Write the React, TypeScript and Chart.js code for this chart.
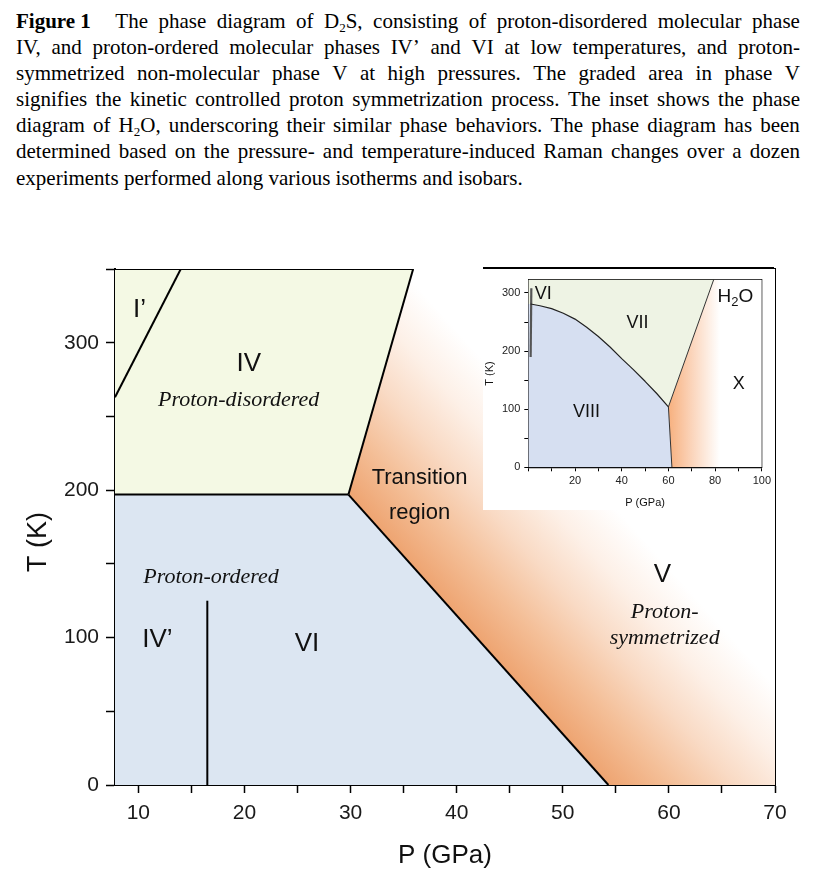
import React, { useEffect, useRef } from "react";
import { Chart, registerables } from "chart.js";

Chart.register(...registerables);

// ---------------- Caption ----------------
const captionLabel = "Figure 1";
const captionLines = [
  "The phase diagram of D₂S, consisting of proton-disordered molecular phase",
  "IV, and proton-ordered molecular phases IV’ and VI at low temperatures, and proton-",
  "symmetrized non-molecular phase V at high pressures. The graded area in phase V",
  "signifies the kinetic controlled proton symmetrization process. The inset shows the phase",
  "diagram of H₂O, underscoring their similar phase behaviors. The phase diagram has been",
  "determined based on the pressure- and temperature-induced Raman changes over a dozen",
  "experiments performed along various isotherms and isobars.",
];

// ---------------- Main D2S diagram (P in GPa, T in K) ----------------
const pRange = [7.8, 70];
const tRange = [0, 350];
const xTickLabels = [10, 20, 30, 40, 50, 60, 70];
const yTickLabels = [0, 100, 200, 300];

const boundaryIprimeIV_P = [7.8, 14.0];
const boundaryIprimeIV_T = [263, 350];
const boundaryIV_VI_P = [7.8, 29.8];
const boundaryIV_VI_T = [197, 197];
const boundaryIV_V_P = [29.8, 35.9];
const boundaryIV_V_T = [197, 350];
const boundaryVI_V_P = [29.8, 54.3];
const boundaryVI_V_T = [197, 0];
const boundaryIVp_VI_P = [16.5, 16.5];
const boundaryIVp_VI_T = [0, 125];

const mainLabelText = ["I’", "IV", "Proton-disordered", "Transition", "region", "Proton-ordered", "IV’", "VI", "V", "Proton-", "symmetrized"];
const mainLabelP = [10.1, 20.4, 19.45, 36.5, 36.5, 16.85, 11.8, 25.9, 59.4, 59.6, 59.6];
const mainLabelT = [322, 285.4, 261, 208, 184.4, 141.2, 98.3, 96, 142.4, 117.5, 99.5];
const mainLabelKind = ["roman", "roman", "italic", "sans", "sans", "italic", "roman", "roman", "roman", "italic", "italic"];

// ---------------- Inset H2O diagram ----------------
const insetPRange = [0, 100];
const insetTRange = [0, 323];
const insetXTickLabels = [20, 40, 60, 80, 100];
const insetYTickLabels = [0, 100, 200, 300];

const insetVIII_VII_P = [1, 5, 10, 15, 20, 25, 30, 35, 40, 45, 50, 55, 60];
const insetVIII_VII_T = [281, 278, 273, 265, 255, 241, 225, 207, 187, 168, 148, 127, 104];
const insetVII_X_P = [60, 79.4];
const insetVII_X_T = [104, 323];
const insetVIII_X_P = [60, 61.5];
const insetVIII_X_T = [104, 0];
const insetVI_P = [1.0, 1.3];
const insetVI_T = [190, 308];

const insetLabelText = ["VI", "VII", "VIII", "X"];
const insetLabelP = [6.4, 46.8, 24.9, 90.1];
const insetLabelT = [298.8, 247.7, 94.6, 143];
const insetFormulaP = 88.7;
const insetFormulaT = 293.2;

// ---------------- helpers ----------------
const SANS = '"Liberation Sans", Arial, sans-serif';
const SERIF = '"Liberation Serif", "Times New Roman", serif';

type Pt = { x: number; y: number };
const zip = (P: number[], T: number[]): Pt[] => P.map((p, i) => ({ x: p, y: T[i] }));

function fillDs(data: Pt[], color: any, order = 10) {
  return {
    data,
    backgroundColor: color,
    borderColor: "rgba(0,0,0,0)",
    borderWidth: 0,
    pointRadius: 0,
    fill: "shape",
    tension: 0,
    order,
  };
}
function lineDs(data: Pt[], color = "#000", width = 2, order = 0) {
  return {
    data,
    borderColor: color,
    backgroundColor: color,
    borderWidth: width,
    pointRadius: 0,
    fill: false,
    tension: 0,
    order,
    borderCapStyle: "butt",
    borderJoinStyle: "round",
  };
}

function mainGradient(context: any) {
  const chart = context.chart;
  const area = chart.chartArea;
  if (!area || !chart.scales.x || !chart.scales.y) return "rgba(240,170,120,0.6)";
  const xs = chart.scales.x;
  const ys = chart.scales.y;
  const ax = xs.getPixelForValue(boundaryVI_V_P[0]);
  const ay = ys.getPixelForValue(boundaryVI_V_T[0]);
  const bx = xs.getPixelForValue(boundaryVI_V_P[1]);
  const by = ys.getPixelForValue(boundaryVI_V_T[1]);
  const dx = bx - ax, dy = by - ay;
  const len = Math.hypot(dx, dy) || 1;
  const nx = dy / len, ny = -dx / len;
  const D = 190;
  const g = chart.ctx.createLinearGradient(ax, ay, ax + nx * D, ay + ny * D);
  g.addColorStop(0, "rgb(238,164,113)");
  g.addColorStop(0.25, "rgb(244,191,152)");
  g.addColorStop(0.5, "rgb(249,218,196)");
  g.addColorStop(0.75, "rgb(253,240,231)");
  g.addColorStop(1, "rgb(255,255,255)");
  return g;
}

function insetGradient(context: any) {
  const chart = context.chart;
  if (!chart.chartArea || !chart.scales.x) return "rgba(247,180,130,0.6)";
  const xs = chart.scales.x;
  const x0 = xs.getPixelForValue(insetVIII_X_P[0]);
  const x1 = xs.getPixelForValue(82);
  const g = chart.ctx.createLinearGradient(x0, 0, x1, 0);
  g.addColorStop(0, "rgb(247,176,126)");
  g.addColorStop(0.45, "rgb(251,212,186)");
  g.addColorStop(1, "rgb(255,255,255)");
  return g;
}

const mainLabelsPlugin = {
  id: "mainLabels",
  afterDatasetsDraw(chart: any) {
    const { ctx, scales } = chart;
    ctx.save();
    ctx.textAlign = "center";
    ctx.textBaseline = "middle";
    ctx.fillStyle = "#111";
    mainLabelText.forEach((t, i) => {
      const k = mainLabelKind[i];
      ctx.font = k === "roman" ? `26px ${SANS}` : k === "italic" ? `italic 22px ${SERIF}` : `22px ${SANS}`;
      ctx.fillText(t, scales.x.getPixelForValue(mainLabelP[i]), scales.y.getPixelForValue(mainLabelT[i]));
    });
    ctx.restore();
  },
};

const insetLabelsPlugin = {
  id: "insetLabels",
  afterDatasetsDraw(chart: any) {
    const { ctx, scales } = chart;
    ctx.save();
    ctx.textAlign = "center";
    ctx.textBaseline = "middle";
    ctx.fillStyle = "#111";
    ctx.font = `18px ${SANS}`;
    insetLabelText.forEach((t, i) => {
      ctx.fillText(t, scales.x.getPixelForValue(insetLabelP[i]), scales.y.getPixelForValue(insetLabelT[i]));
    });
    // H2O with subscript
    const cx = scales.x.getPixelForValue(insetFormulaP);
    const cy = scales.y.getPixelForValue(insetFormulaT);
    const big = `19px ${SANS}`;
    const small = `13px ${SANS}`;
    ctx.font = big;
    const wH = ctx.measureText("H").width;
    const wO = ctx.measureText("O").width;
    ctx.font = small;
    const w2 = ctx.measureText("2").width;
    const total = wH + w2 + wO;
    let x = cx - total / 2;
    ctx.textAlign = "left";
    ctx.font = big;
    ctx.fillText("H", x, cy);
    x += wH;
    ctx.font = small;
    ctx.fillText("2", x, cy + 6);
    x += w2;
    ctx.font = big;
    ctx.fillText("O", x, cy);
    ctx.restore();
  },
};

function buildMainConfig(): any {
  const pMin = pRange[0], pMax = pRange[1], tMax = tRange[1];
  const regionIV = [
    ...zip(boundaryIV_VI_P, boundaryIV_VI_T),
    ...zip(boundaryIV_V_P, boundaryIV_V_T).slice(1),
    { x: pMin, y: tMax },
  ];
  const regionVI = [
    { x: pMin, y: tRange[0] },
    ...zip(boundaryVI_V_P, boundaryVI_V_T).reverse(),
    { x: pMin, y: boundaryIV_VI_T[0] },
  ];
  const vEnd = zip(boundaryVI_V_P, boundaryVI_V_T)[1];
  const regionV = [
    vEnd,
    { x: pMax, y: tRange[0] },
    { x: pMax, y: tMax },
    ...zip(boundaryIV_V_P, boundaryIV_V_T).reverse(),
  ];
  const topEdge = zip([pMin, boundaryIV_V_P[1]], [tMax, tMax]);

  return {
    type: "line",
    data: {
      datasets: [
        fillDs(regionIV, "rgb(244,249,228)"),
        fillDs(regionVI, "rgb(220,230,242)"),
        fillDs(regionV, mainGradient),
        lineDs(zip(boundaryIprimeIV_P, boundaryIprimeIV_T)),
        lineDs(zip(boundaryIV_VI_P, boundaryIV_VI_T)),
        lineDs(zip(boundaryIV_V_P, boundaryIV_V_T)),
        lineDs(zip(boundaryVI_V_P, boundaryVI_V_T)),
        lineDs(zip(boundaryIVp_VI_P, boundaryIVp_VI_T)),
        lineDs(topEdge),
      ],
    },
    options: {
      animation: false,
      responsive: false,
      events: [],
      layout: { padding: { top: 31, right: 33, left: 0, bottom: 0 } },
      plugins: { legend: { display: false }, tooltip: { enabled: false } },
      scales: {
        x: {
          type: "linear",
          position: "bottom",
          min: pRange[0],
          max: pRange[1],
          ticks: {
            stepSize: 5,
            includeBounds: false,
            autoSkip: false,
            maxRotation: 0,
            padding: 8,
            color: "#1a1a1a",
            font: { family: SANS, size: 21 },
            callback: (v: number) => (xTickLabels.includes(Math.round(v)) ? String(Math.round(v)) : ""),
          },
          grid: { display: true, drawOnChartArea: false, drawTicks: true, tickLength: 8, tickWidth: 1.5, tickColor: "#000" },
          border: { display: true, color: "#000", width: 2 },
          title: { display: true, text: "P (GPa)", color: "#111", font: { family: SANS, size: 26 }, padding: { top: 0, bottom: 7 } },
          afterFit: (s: any) => { s.height = 93; },
        },
        y: {
          type: "linear",
          position: "left",
          min: tRange[0],
          max: tRange[1],
          ticks: {
            stepSize: 50,
            includeBounds: false,
            autoSkip: false,
            padding: 7,
            color: "#1a1a1a",
            font: { family: SANS, size: 21 },
            callback: (v: number) => (yTickLabels.includes(Math.round(v)) ? String(Math.round(v)) : ""),
          },
          grid: { display: true, drawOnChartArea: false, drawTicks: true, tickLength: 9, tickWidth: 1.5, tickColor: "#000" },
          border: { display: true, color: "#000", width: 2 },
          title: { display: true, text: "T (K)\u00a0\u00a0\u00a0\u00a0", color: "#111", font: { family: SANS, size: 27 }, padding: { top: 14, bottom: 0 } },
          afterFit: (s: any) => { s.width = 107; },
        },
        yRight: {
          type: "linear",
          position: "right",
          display: true,
          min: tRange[0],
          max: tRange[1],
          ticks: { display: false },
          grid: { display: false, drawTicks: false },
          border: { display: true, color: "#000", width: 2 },
          afterFit: (s: any) => { s.width = 0; },
        },
      },
    },
    plugins: [mainLabelsPlugin],
  };
}

function buildInsetConfig(): any {
  const pMax = insetPRange[1], tMax = insetTRange[1];
  const curve = zip(insetVIII_VII_P, insetVIII_VII_T);
  const regionVIII = [
    { x: 0, y: 0 },
    ...zip(insetVIII_X_P, insetVIII_X_T).reverse(),
    ...curve.slice().reverse().slice(1),
    { x: 0, y: insetVIII_VII_T[0] },
  ];
  const regionVII = [
    { x: 0, y: insetVIII_VII_T[0] },
    ...curve,
    ...zip(insetVII_X_P, insetVII_X_T).slice(1),
    { x: 0, y: tMax },
  ];
  const regionX = [
    zip(insetVIII_X_P, insetVIII_X_T)[1],
    { x: pMax, y: 0 },
    { x: pMax, y: tMax },
    ...zip(insetVII_X_P, insetVII_X_T).reverse(),
  ];
  const tickFont = { family: SANS, size: 11 };
  return {
    type: "line",
    data: {
      datasets: [
        fillDs(regionVIII, "rgb(214,223,241)"),
        fillDs(regionVII, "rgb(238,243,228)"),
        fillDs(regionX, insetGradient),
        lineDs(curve, "#222", 1.2),
        lineDs(zip(insetVII_X_P, insetVII_X_T), "#333", 1),
        lineDs(zip(insetVIII_X_P, insetVIII_X_T), "#333", 1),
        lineDs(zip(insetVI_P, insetVI_T), "#555", 2.2),
      ],
    },
    options: {
      animation: false,
      responsive: false,
      events: [],
      layout: { padding: { top: 8.5, right: 11, left: 0, bottom: 0 } },
      plugins: { legend: { display: false }, tooltip: { enabled: false } },
      scales: {
        x: {
          type: "linear",
          position: "bottom",
          min: insetPRange[0],
          max: insetPRange[1],
          ticks: {
            stepSize: 10,
            autoSkip: false,
            maxRotation: 0,
            padding: 3,
            color: "#222",
            font: tickFont,
            callback: (v: number) => (insetXTickLabels.includes(Math.round(v)) ? String(Math.round(v)) : ""),
          },
          grid: { display: true, drawOnChartArea: false, drawTicks: true, tickLength: 4, tickWidth: 1, tickColor: "#000" },
          border: { display: true, color: "#000", width: 1.3 },
          title: { display: true, text: "P (GPa)", color: "#111", font: { family: SANS, size: 11 }, padding: { top: 0, bottom: 0 } },
          afterFit: (s: any) => { s.height = 42.7; },
        },
        y: {
          type: "linear",
          position: "left",
          min: insetTRange[0],
          max: insetTRange[1],
          ticks: {
            stepSize: 50,
            includeBounds: false,
            autoSkip: false,
            padding: 4,
            color: "#222",
            font: tickFont,
            callback: (v: number) => (insetYTickLabels.includes(Math.round(v)) ? String(Math.round(v)) : ""),
          },
          grid: { display: true, drawOnChartArea: false, drawTicks: true, tickLength: 4, tickWidth: 1, tickColor: "#000" },
          border: { display: true, color: "#000", width: 1.3 },
          title: { display: true, text: "T (K)", color: "#111", font: { family: SANS, size: 11 }, padding: { top: 0, bottom: 0 } },
          afterFit: (s: any) => { s.width = 45.3; },
        },
        yRight: {
          type: "linear",
          position: "right",
          display: true,
          min: insetTRange[0],
          max: insetTRange[1],
          ticks: { display: false },
          grid: { display: false, drawTicks: false },
          border: { display: true, color: "#000", width: 1.3 },
          afterFit: (s: any) => { s.width = 0; },
        },
        xTop: {
          type: "linear",
          position: "top",
          display: true,
          min: insetPRange[0],
          max: insetPRange[1],
          ticks: { display: false },
          grid: { display: false, drawTicks: false },
          border: { display: true, color: "#000", width: 1.3 },
          afterFit: (s: any) => { s.height = 0; },
        },
      },
    },
    plugins: [insetLabelsPlugin],
  };
}

function renderWord(w: string, key: number) {
  const parts = w.split("₂");
  const out: any[] = [];
  parts.forEach((p, i) => {
    if (i > 0) {
      out.push(
        <span key={`s${i}`} style={{ fontSize: "0.62em", position: "relative", top: "0.28em" }}>2</span>
      );
    }
    out.push(<React.Fragment key={`p${i}`}>{p}</React.Fragment>);
  });
  return <span key={key}>{out}</span>;
}

function Caption() {
  const lineStyle: React.CSSProperties = {
    display: "flex",
    justifyContent: "space-between",
    alignItems: "baseline",
    height: 26.1,
    lineHeight: "26.1px",
    whiteSpace: "nowrap",
  };
  return (
    <div
      style={{
        position: "absolute",
        left: 8,
        top: 0,
        width: 784,
        fontFamily: SERIF,
        fontSize: 21,
        color: "#000",
      }}
    >
      {captionLines.map((line, li) => {
        const words = line.split(" ");
        if (li === captionLines.length - 1) {
          return (
            <div key={li} style={{ height: 26.1, lineHeight: "26.1px", whiteSpace: "nowrap" }}>
              {line}
            </div>
          );
        }
        return (
          <div key={li} style={lineStyle}>
            {li === 0 && <span style={{ fontWeight: "bold", marginRight: 14 }}>{captionLabel}</span>}
            {words.map((w, wi) => renderWord(w, wi))}
          </div>
        );
      })}
    </div>
  );
}

export default function App() {
  const mainRef = useRef<HTMLCanvasElement>(null);
  const insetRef = useRef<HTMLCanvasElement>(null);

  useEffect(() => {
    const c1 = new Chart(mainRef.current as HTMLCanvasElement, buildMainConfig());
    const c2 = new Chart(insetRef.current as HTMLCanvasElement, buildInsetConfig());
    return () => {
      c1.destroy();
      c2.destroy();
    };
  }, []);

  return (
    <div style={{ position: "relative", width: 800, height: 878 }}>
      <Caption />
      <div style={{ position: "absolute", left: 0, top: 230, width: 800, height: 640 }}>
        <canvas ref={mainRef} width={800} height={640} style={{ width: 800, height: 640, display: "block" }} />
      </div>
      <div
        style={{
          position: "absolute",
          left: 475,
          top: 259,
          width: 291,
          height: 241,
          background: "#fff",
          borderTop: "2px solid #000",
        }}
      >
        <canvas ref={insetRef} width={291} height={241} style={{ width: 291, height: 241, display: "block" }} />
      </div>
    </div>
  );
}
